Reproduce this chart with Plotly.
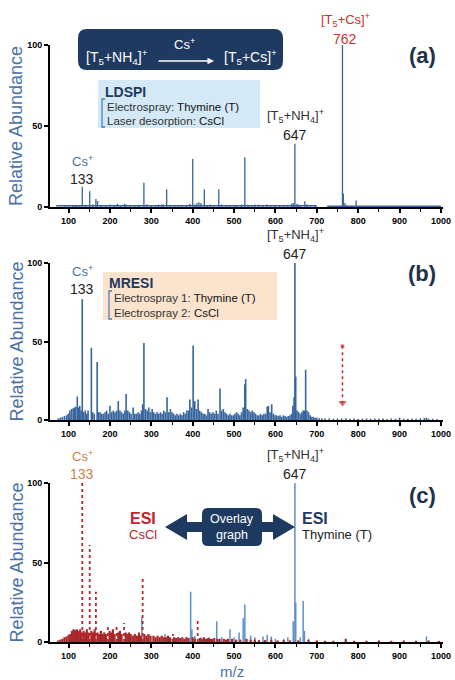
import plotly.graph_objects as go

W, H = 455, 680

# ---------------- data ----------------
# (a) LDSPI spectrum
a_mz = [91, 100, 110, 115, 120, 127, 133, 140, 151, 158, 166, 170, 178, 190, 200, 210, 218, 225, 235, 239,
        248, 260, 270, 282, 289, 300, 310, 317, 325, 329, 337, 345, 357, 365, 373, 385, 393, 400, 405, 410,
        415, 420, 428, 435, 442, 450, 463, 470, 482, 490, 500, 506, 518, 526, 534, 543, 550, 559, 570, 579,
        587, 599, 610, 620, 630, 639, 643, 647, 652, 655, 660, 671, 676, 684, 696, 762, 764, 768, 772, 795]
a_int = [1, 0.8, 1, 1, 1.2, 1, 12.5, 1, 9.7, 1.5, 5, 3.7, 1.2, 1, 1.5, 1, 2, 1, 2, 1.5,
         1, 1, 1, 15, 1.5, 1, 1, 1.5, 1.5, 1.5, 11, 1, 1, 1, 1, 1, 2, 29.6, 1.5, 2.5,
         3, 2.5, 11, 1, 1.5, 1, 11, 1.5, 1, 1, 1, 1.2, 1.5, 30.7, 1.2, 1, 1.5, 1.5, 1, 1.5,
         1.2, 1, 1, 1, 1, 2, 2.5, 39, 2, 1.5, 1, 3.5, 1.5, 1, 0.6, 100, 8.4, 2.5, 1, 4]
a_base_mz = [70, 700, None, 725, 1000]
a_base_int = [0.7, 0.7, None, 0.5, 0.5]

# (b) MRESI spectrum
b_mz = [75, 80, 85, 90, 95, 99, 103, 107, 111, 115, 117, 121, 124, 127, 130, 133, 136, 140, 144, 147,
        155, 158, 162, 169, 172, 176, 180, 184, 188, 192, 196, 200, 204, 208, 212, 216, 220, 224, 228, 232,
        236, 239, 243, 247, 251, 256, 260, 264, 268, 272, 276, 279, 282, 286, 290, 294, 298, 302, 306, 310,
        314, 318, 322, 326, 330, 334, 338, 342, 346, 350, 354, 358, 362, 366, 370, 374, 378, 382, 386, 390,
        393, 397, 401, 405, 409, 413, 417, 421, 425, 429, 433, 437, 441, 445, 449, 453, 457, 461, 466, 470,
        474, 478, 482, 486, 490, 494, 498, 502, 506, 510, 514, 518, 522, 526, 528, 532, 536, 540, 544, 548,
        552, 556, 560, 564, 568, 572, 576, 580, 583, 587, 591, 595, 599, 603, 607, 611, 615, 619, 623, 627,
        631, 635, 639, 642, 645, 647, 649, 652, 656, 660, 664, 667, 670, 673, 676, 680, 684, 688, 692, 696,
        700, 706, 712, 720, 730, 740, 750, 760, 770, 780, 790, 800, 810, 820, 830, 840, 850, 860, 870, 880,
        890, 900, 910, 920, 930, 940, 950, 960, 965, 970, 980, 990]
b_int = [1, 1.5, 2, 2.5, 3, 4, 6, 7, 7.5, 8, 8.5, 15, 8, 9, 6, 77, 5, 6, 4, 6,
         46, 5, 4, 37, 5, 5, 4, 4, 5, 6, 4, 9, 5, 6, 5, 6, 12, 6, 5, 4,
         6, 16.5, 6, 5, 4, 8, 4, 4, 5, 4, 6, 10, 49, 7, 6, 8, 5, 7, 5, 4,
         5, 4, 5, 4, 6, 5, 14.5, 5, 7, 5, 4, 3, 4, 3, 4, 3, 5, 4, 6, 6,
         13, 8, 47.5, 12, 7, 13, 6, 5, 4, 4, 3, 7, 5, 4, 5, 4, 6, 4, 20, 6,
         7, 5, 4, 3, 4, 3, 3, 4, 5, 4, 3, 5, 8, 22.7, 26, 7, 6, 5, 6, 5,
         4, 3, 3, 4, 3, 4, 4, 8.5, 9, 5, 10, 4, 3, 3, 2.5, 3, 2, 3, 2.5, 2,
         2.5, 3, 4, 9, 14.5, 100, 27.6, 6, 5, 4, 5, 6, 6, 32, 6, 5, 3, 2, 2, 1.5,
         1.5, 1.2, 1, 1, 1, 0.8, 1, 1, 1.2, 0.8, 1, 0.8, 0.8, 1, 0.8, 1, 0.8, 1, 0.7, 1,
         0.8, 1.5, 0.8, 0.8, 1, 0.8, 1, 1.2, 1.5, 0.8, 0.8, 0.6]
arrow_mz = [762, 762]
arrow_int = [47, 11]

# (c) overlay: ESI thymine (blue) and ESI CsCl (red)
c_blue_mz = [255, 270, 277, 290, 310, 333, 350, 370, 385, 395, 398, 405, 420, 440, 458, 470, 490, 500,
             512, 522, 526, 540, 550, 570, 580, 590, 600, 620, 630, 643, 647, 649, 660, 667, 670, 680, 965]
c_blue_int = [2, 3, 15.6, 2.5, 2, 5, 2, 2.5, 3, 31.6, 8, 4, 3, 3, 13, 3, 8, 3,
              6, 15, 23.6, 4, 3, 3.5, 4.5, 3.5, 2, 2, 3, 13, 100, 24.6, 3, 26, 7, 2, 3.5]
c_red_mz = [75, 80, 85, 90, 95, 100, 104, 108, 112, 116, 120, 124, 128, 131, 136, 140, 144, 148, 155, 159,
            163, 170, 174, 178, 182, 186, 190, 199, 203, 207, 211, 220, 224, 228, 238, 242, 246, 250, 255, 260,
            265, 270, 275, 283, 288, 293, 298, 305, 310, 315, 320, 325, 330, 335, 340, 345, 355, 360, 365, 370,
            375, 380, 385, 390, 400, 405, 417, 422, 427, 432, 437, 442, 447, 452, 460, 465, 475, 480, 485, 495,
            505, 515, 530, 540, 550, 560, 575, 590, 605, 620, 635, 655, 680, 700, 720, 740, 770, 790, 820,
            850, 880, 910, 940, 970, 995]
c_red_int = [1, 1.5, 2, 3, 3.5, 4.5, 5, 7, 8, 7.5, 8, 7, 8, 6, 7, 6, 8, 6, 7, 6,
             8, 6, 5, 7, 5, 6, 5, 7, 6, 8, 5, 6, 7, 5, 6, 5, 6, 5, 4, 5,
             4, 6, 4, 5, 4, 5, 4, 4, 3, 4, 3, 4, 3, 3, 4, 3, 3, 2.5, 3, 2.5,
             3, 2, 3, 2.5, 3, 2, 2.5, 2, 3, 2, 2.5, 2, 2, 2.5, 2, 2, 2, 1.5, 2, 2,
             1.5, 1.5, 2, 1.5, 1.5, 1.2, 1.2, 1.5, 1, 1.2, 1, 1, 1.2, 1, 0.8, 0.8, 2, 0.8, 0.8,
             1, 0.8, 1, 0.8, 1, 0.7]
c_red_major_mz = [133, 151, 166, 195, 216, 234, 279, 352, 412]
c_red_major_int = [100, 61, 31.6, 10, 10.7, 12, 40, 5, 14.5]

x_ticks = [100, 200, 300, 400, 500, 600, 700, 800, 900, 1000]
y_ticks = [0, 50, 100]

for xs, ys in [(a_mz, a_int), (b_mz, b_int), (c_blue_mz, c_blue_int), (c_red_mz, c_red_int),
               (c_red_major_mz, c_red_major_int)]:
    assert len(xs) == len(ys), (len(xs), len(ys))

# ---------------- helpers ----------------
FONT = "Liberation Sans, Arial, sans-serif"
BLUE = "#35649e"
LBLUE = "#5e8fc7"
RED = "#c0262c"
NAVY = "#1f3a60"
TITLE_BLUE = "#4a72a6"


def X(px):
    return px / W


def Y(py):
    return 1 - py / H


def sticks(mz, h):
    xs, ys = [], []
    for m, v in zip(mz, h):
        xs += [m, m, None]
        ys += [0, v, None]
    return xs, ys


def rrect(x0, y0, x1, y1, r):
    pts = [
        f"M {X(x0 + r)},{Y(y0)}", f"L {X(x1 - r)},{Y(y0)}", f"Q {X(x1)},{Y(y0)} {X(x1)},{Y(y0 + r)}",
        f"L {X(x1)},{Y(y1 - r)}", f"Q {X(x1)},{Y(y1)} {X(x1 - r)},{Y(y1)}", f"L {X(x0 + r)},{Y(y1)}",
        f"Q {X(x0)},{Y(y1)} {X(x0)},{Y(y1 - r)}", f"L {X(x0)},{Y(y0 + r)}", f"Q {X(x0)},{Y(y0)} {X(x0 + r)},{Y(y0)}",
        "Z"]
    return " ".join(pts)


def poly(points):
    s = " ".join(("M" if i == 0 else "L") + f" {X(px)},{Y(py)}" for i, (px, py) in enumerate(points))
    return s + " Z"


annotations = []


def ann(text, x, y, size=13, color="#222", xanchor="center", yanchor="middle", weight="normal", **kw):
    annotations.append(dict(text=text, x=X(x), y=Y(y), xref="paper", yref="paper", showarrow=False,
                            xanchor=xanchor, yanchor=yanchor,
                            font=dict(family=FONT, size=size, color=color, weight=weight), **kw))


def pair(top_text, bottom_text, x, ysplit, top_color, bottom_color, top_size=13, bottom_size=14):
    ann(top_text, x, ysplit, size=top_size, color=top_color, yanchor="bottom", borderpad=0)
    ann(bottom_text, x, ysplit, size=bottom_size, color=bottom_color, yanchor="top", borderpad=0)


fig = go.Figure()

# panel a
xs, ys = sticks(a_mz, a_int)
fig.add_trace(go.Scatter(x=a_base_mz, y=a_base_int, mode="lines", line=dict(color=BLUE, width=1.5),
                         xaxis="x", yaxis="y", hoverinfo="skip"))
fig.add_trace(go.Scatter(x=xs, y=ys, mode="lines", line=dict(color=BLUE, width=1.3), xaxis="x", yaxis="y"))

# panel b
xs, ys = sticks(b_mz, b_int)
fig.add_trace(go.Scatter(x=xs, y=ys, mode="lines", line=dict(color=BLUE, width=1.6), xaxis="x2", yaxis="y2"))
fig.add_trace(go.Scatter(x=arrow_mz, y=arrow_int, mode="lines+markers",
                         line=dict(color=RED, width=1.5, dash="dot"),
                         marker=dict(symbol=["circle", "triangle-down"], size=[5, 9], color=RED),
                         xaxis="x2", yaxis="y2"))

# panel c
xs, ys = sticks(c_blue_mz, c_blue_int)
fig.add_trace(go.Scatter(x=xs, y=ys, mode="lines", line=dict(color=LBLUE, width=1.5), xaxis="x3", yaxis="y3"))
xs, ys = sticks(c_red_mz, c_red_int)
fig.add_trace(go.Scatter(x=xs, y=ys, mode="lines", line=dict(color="#a8282a", width=2.2), xaxis="x3", yaxis="y3"))
xs, ys = sticks(c_red_major_mz, c_red_major_int)
fig.add_trace(go.Scatter(x=xs, y=ys, mode="lines", line=dict(color=RED, width=1.8, dash="dot"),
                         xaxis="x3", yaxis="y3"))

# axes
domains = {"a": (207, 45), "b": (420, 263), "c": (642, 483)}
layout_axes = {}
for i, key in enumerate(["a", "b", "c"]):
    bot, top = domains[key]
    suffix = "" if i == 0 else str(i + 1)
    layout_axes["xaxis" + suffix] = dict(
        domain=[X(50), X(443)], range=[55, 1005], anchor="y" + suffix,
        tickvals=x_ticks, ticks="outside", ticklen=4, tickwidth=1.5, tickcolor="black",
        showline=True, linecolor="black", linewidth=2, showgrid=False, zeroline=False,
        tickfont=dict(family=FONT, size=9, color="black", weight="bold"),
        minor=dict(ticks="outside", dtick=50, tick0=0, ticklen=2.5, tickwidth=1.2, tickcolor="black"),
        automargin=False, fixedrange=True)
    layout_axes["yaxis" + suffix] = dict(
        domain=[Y(bot), Y(top)], range=[0, 100], anchor="x" + suffix,
        tickvals=y_ticks, ticks="outside", ticklen=4, tickwidth=1.5, tickcolor="black",
        showline=True, linecolor="black", linewidth=2, showgrid=False, zeroline=False,
        tickfont=dict(family=FONT, size=9, color="black", weight="bold"),
        automargin=False, fixedrange=True)
    ann("Relative Abundance", 16, (bot + top) / 2, size=18, color=TITLE_BLUE, textangle=-90)

shapes = []
# ---- panel a decorations ----
shapes.append(dict(type="path", path=rrect(78, 29, 283, 70, 9), xref="paper", yref="paper",
                   fillcolor=NAVY, line=dict(width=0), layer="above"))
ann("[T<sub>5</sub>+NH<sub>4</sub>]<sup>+</sup>", 117, 57, size=14, color="white")
ann("Cs<sup>+</sup>", 184, 44, size=13, color="white")
annotations.append(dict(x=X(214), y=Y(61), xref="paper", yref="paper", ax=-57, ay=0, text="",
                        showarrow=True, arrowhead=2, arrowsize=1, arrowwidth=1.3, arrowcolor="white"))
ann("[T<sub>5</sub>+Cs]<sup>+</sup>", 250, 57, size=14, color="white")

shapes.append(dict(type="rect", x0=X(98), x1=X(260), y0=Y(80), y1=Y(128), xref="paper", yref="paper",
                   fillcolor="#d3e9f5", line=dict(width=0), layer="below"))
ann("<b>LDSPI</b>", 103, 92, size=14, color=NAVY, xanchor="left")
ann("Electrospray: <span style='color:#111'>Thymine (T)</span>", 105, 107, size=11.5, color="#333",
    xanchor="left")
ann("Laser desorption: <span style='color:#111'>CsCl</span>", 105, 121, size=11.5, color="#333",
    xanchor="left")
shapes.append(dict(type="path", path=f"M {X(105)},{Y(99)} L {X(102)},{Y(99)} L {X(102)},{Y(127)} L {X(105)},{Y(127)}",
                   xref="paper", yref="paper", line=dict(color="#4f7fb8", width=1.3)))

pair("[T<sub>5</sub>+NH<sub>4</sub>]<sup>+</sup>", "647", 295, 126, "#333", "#222")
pair("[T<sub>5</sub>+Cs]<sup>+</sup>", "762", 345, 30, "#d42a2a", "#d42a2a")
pair("Cs<sup>+</sup>", "133", 82, 170, TITLE_BLUE, "#222")
ann("<b>(a)</b>", 422, 55, size=22, color="#22304a")

# ---- panel b decorations ----
shapes.append(dict(type="rect", x0=X(103), x1=X(277), y0=Y(272), y1=Y(320), xref="paper", yref="paper",
                   fillcolor="#fbe3cd", line=dict(width=0), layer="below"))
ann("<b>MRESI</b>", 107, 283, size=14, color=NAVY, xanchor="left")
ann("Electrospray 1: <span style='color:#111'>Thymine (T)</span>", 112, 298, size=11.5, color="#333",
    xanchor="left")
ann("Electrospray 2: <span style='color:#111'>CsCl</span>", 112, 313, size=11.5, color="#333",
    xanchor="left")
shapes.append(dict(type="path", path=f"M {X(112)},{Y(291)} L {X(109)},{Y(291)} L {X(109)},{Y(319)} L {X(112)},{Y(319)}",
                   xref="paper", yref="paper", line=dict(color="#4f7fb8", width=1.3)))
pair("[T<sub>5</sub>+NH<sub>4</sub>]<sup>+</sup>", "647", 295, 245, "#333", "#222")
pair("Cs<sup>+</sup>", "133", 82, 280, TITLE_BLUE, "#222")
ann("<b>(b)</b>", 422, 273, size=22, color="#22304a")

# ---- panel c decorations ----
pair("Cs<sup>+</sup>", "133", 82, 465, "#c8844a", "#c8844a")
pair("[T<sub>5</sub>+NH<sub>4</sub>]<sup>+</sup>", "647", 295, 465, "#333", "#222")
ann("<b>(c)</b>", 422, 495, size=22, color="#22304a")
ann("<b>ESI</b>", 143, 518, size=16, color="#c8202a")
ann("CsCl", 143, 534, size=13, color="#c8202a")
ann("<b>ESI</b>", 300, 518, size=16, color=NAVY, xanchor="left")
ann("Thymine (T)", 300, 534, size=13, color="#222", xanchor="left")
# double arrow
cy = 527
shapes.append(dict(type="path", xref="paper", yref="paper", fillcolor=NAVY, line=dict(width=0),
                   path=poly([(165, cy), (187, cy - 13), (187, cy - 5), (273, cy - 5), (273, cy - 13), (295, cy),
                              (273, cy + 13), (273, cy + 5), (187, cy + 5), (187, cy + 13)])))
shapes.append(dict(type="path", path=rrect(202, 508, 262, 546, 6), xref="paper", yref="paper",
                   fillcolor=NAVY, line=dict(width=0)))
ann("Overlay", 232, 519, size=12.5, color="white")
ann("graph", 232, 535, size=12.5, color="white")

ann("m/z", 232, 671, size=15, color=TITLE_BLUE)

fig.update_layout(
    width=W, height=H, margin=dict(l=0, r=0, t=0, b=0), showlegend=False,
    paper_bgcolor="white", plot_bgcolor="white",
    annotations=annotations, shapes=shapes, **layout_axes)

fig.write_html("out.html", config={"displayModeBar": False},
               post_script="document.body.style.margin='0';document.body.style.overflow='hidden';")
